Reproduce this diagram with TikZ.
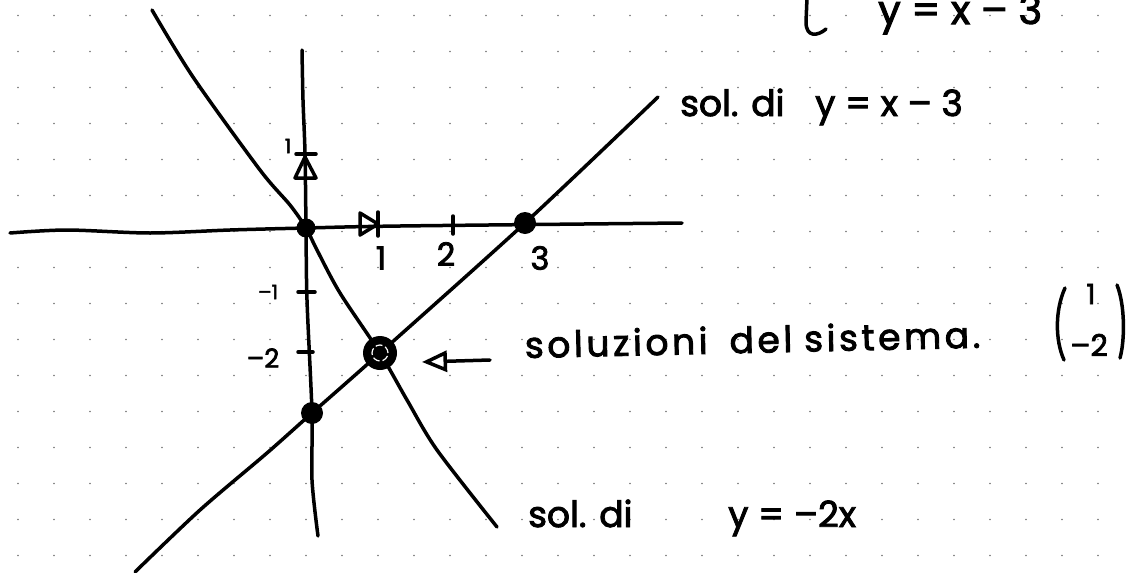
\documentclass[tikz,border=0pt]{standalone}
\usepackage{fontspec}
\setmainfont{Poppins}[FakeBold=2.5]
\usepackage{tikz}
\usetikzlibrary{arrows.meta, positioning, calc}

\tikzset{
  pen/.style={line width=3.5pt, line cap=round, line join=round},
  hand/.style={font=\fontsize{36}{38}\selectfont, inner sep=0pt, anchor=base west},
  digit/.style={font=\fontsize{32}{34}\selectfont, inner sep=0pt},
  tiny digit/.style={font=\fontsize{20}{22}\selectfont, inner sep=0pt},
}

\begin{document}
\begin{tikzpicture}[x=1pt, y=-1pt]
  \useasboundingbox (0,0) rectangle (1130,573);
  \clip (0,0) rectangle (1130,573);

  % Dotted paper
  \foreach \i in {0,...,30}
    \foreach \j in {0,...,15}
      \fill[black!55] (18+36*\i, 15.5+36*\j) circle (0.9pt);

  % Points
  \coordinate (O) at (306,228);
  \coordinate (A) at (525,223);
  \coordinate (B) at (312,413);
  \coordinate (S) at (380,353);

  % Axes
  \draw[pen] plot[smooth] coordinates {(10,233) (67,230) (150,233) (230,230) (O) (400,226) (682,223)};
  \draw[pen] plot[smooth] coordinates {(302,50) (303,100) (305,153) (O) (307,300) (B) (312,480) (318,536)};

  % Unit marks
  \draw[pen] (360,213) -- (378,224) -- (360,235) -- cycle;
  \draw[pen] (378,212) -- (378,236);
  \draw[pen] (453,216) -- (453,234);
  \draw[pen] (295,178) -- (305,157) -- (316,178) -- cycle;
  \draw[pen] (296,154) -- (316,154);
  \draw[pen] (298,292) -- (315,292);
  \draw[pen] (298,352) -- (313,352);

  \node[digit] (lx1) at (381,258) {1};
  \node[digit] (lx2) at (446,254) {2};
  \node[digit] (lx3) at (540,258) {3};
  \node[tiny digit] (ly1) at (288,146) {1};
  \node[tiny digit] (lym1) at (268,292) {–1};
  \node[digit, font=\fontsize{26}{28}\selectfont] (lym2) at (263,358) {–2};

  % Solution sets
  \draw[pen] plot[smooth] coordinates {(152,10) (193,77) (260,170) (290,205) (O) (317,250) (340,293) (S) (407,400) (437,450) (497,527)};
  \draw[pen] plot[smooth] coordinates {(135,572) (200,510) (267,453) (B) (S) (A) (658,97)};

  \fill (O) circle (9.5pt);
  \fill (A) circle (11pt);
  \fill (B) circle (11pt);
  \fill (S) circle (17pt);
  \draw[white, line width=1.2pt, dash pattern=on 7pt off 3pt] (S) circle (8pt);

  % Pointer to the solution
  \coordinate (tail) at (490,360);
  \coordinate (tip) at (422,362);
  \draw[pen, -{Triangle[open, length=25pt, width=21pt]}] (tail) -- (tip);

  % System (cut at the top)
  \draw[pen] (807,-2) -- (806,22) .. controls (806,38) and (818,36) .. (826,29);
  \node[hand, font=\fontsize{40}{42}\selectfont] (sys) at (878,24) {y = x – 3};

  % Texts
  \node[hand] (sol1) at (680,116) {sol. di};
  \node[hand] (eq1) at (815,116) {y = x – 3};
  \node[hand, rotate=1.3, font=\fontsize{36}{38}\selectfont\addfontfeature{LetterSpace=10}] (sol) at (525,358)
    {soluzioni\hspace{22pt}del\hspace{12pt}sistema.};
  \node[hand] (sol2) at (528,527) {sol. di};
  \node[hand] (eq2) at (728,527) {y = –2x};

  % Solution vector
  \draw[pen] (1065,288) .. controls (1055,310) and (1055,340) .. (1064,360);
  \draw[pen] (1117,285) .. controls (1125,305) and (1125,340) .. (1120,358);
  \node[tiny digit, font=\fontsize{28}{30}\selectfont] (v1) at (1091,294) {1};
  \node[tiny digit, font=\fontsize{30}{32}\selectfont] (v2) at (1089,345) {–2};
\end{tikzpicture}
\end{document}
